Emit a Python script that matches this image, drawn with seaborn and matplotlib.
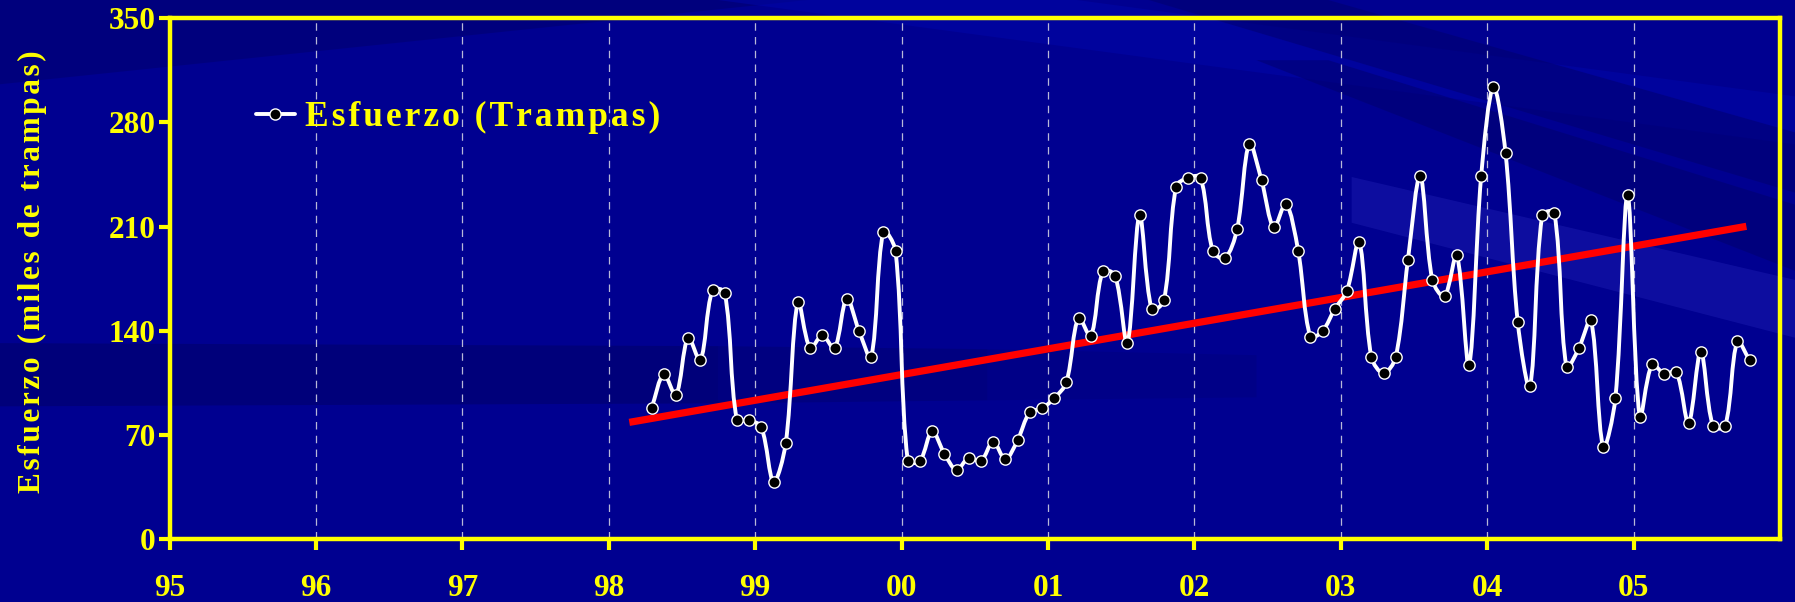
import numpy as np
import pandas as pd
import matplotlib
matplotlib.use("Agg")
import matplotlib.pyplot as plt
from matplotlib.path import Path
from matplotlib.patches import PathPatch, Polygon
from matplotlib.lines import Line2D
import seaborn as sns

# Monthly trap effort (thousands of traps), April 1998 - October 2005
start_month = "1998-04"
esfuerzo = [
    87.9, 110.8, 96.9, 135.4, 120.2, 167.4, 165.6, 80.1, 80.1,                 # 1998 Apr-Dec
    75.2, 38.6, 64.4, 159.6, 128.2, 137.0, 128.2, 161.6, 140.1, 122.2, 206.6, 193.8,  # 1999
    52.7, 52.7, 72.5, 57.5, 46.6, 54.7, 52.5, 65.5, 53.7, 66.4, 85.2, 87.9,     # 2000
    94.6, 105.4, 148.8, 136.5, 180.2, 177.0, 131.8, 217.6, 154.4, 160.5, 236.8, 242.9,  # 2001
    242.9, 193.8, 188.7, 208.4, 265.7, 241.1, 209.5, 225.4, 193.8, 136.0, 139.9, 154.6,  # 2002
    166.9, 199.9, 122.4, 111.4, 122.4, 187.8, 244.0, 174.1, 163.2, 190.9, 117.0, 243.8,  # 2003
    303.8, 259.4, 145.7, 102.7, 217.6, 219.3, 115.5, 128.2, 147.0, 62.1, 94.6, 231.0,    # 2004
    81.9, 117.5, 111.2, 112.3, 78.1, 126.0, 76.0, 76.0, 132.9, 120.2,          # 2005 Jan-Oct
]

# Linear trend (start and end)
trend_years = [1998.14, 2005.77]
trend_values = [78.5, 210.2]

year_ticks = list(range(1995, 2006))
year_labels = ["95", "96", "97", "98", "99", "00", "01", "02", "03", "04", "05"]
y_ticks = [0, 70, 140, 210, 280, 350]

series_label = "Esfuerzo (Trampas)"
y_title = "Esfuerzo (miles de trampas)"

YELLOW = "#FFFF00"
SERIF = ["Liberation Serif", "DejaVu Serif"]
HAIR = "\u200a"

periods = pd.period_range(start_month, periods=len(esfuerzo), freq="M")
df = pd.DataFrame({
    "anio": periods.year + (periods.month - 0.5) / 12.0,
    "esfuerzo": esfuerzo,
})
trend = pd.DataFrame({"anio": trend_years, "valor": trend_values})

sns.set_style("ticks")
plt.rcParams["font.family"] = SERIF

fig = plt.figure(figsize=(17.95, 6.02), dpi=100)
fig.patch.set_facecolor("#000090")

# slide background: soft bands of darker / lighter blue
def band(pts, color, alpha):
    fig.add_artist(Polygon(pts, closed=True, transform=fig.transFigure,
                           facecolor=color, edgecolor="none", alpha=alpha, zorder=-10))

band([(0, 1), (0.45, 1), (0.0, 0.86)], "#000068", 0.45)
band([(0, 0.43), (0.40, 0.425), (0.40, 0.33), (0, 0.325)], "#000060", 0.45)
band([(0.40, 0.425), (0.55, 0.42), (0.55, 0.335), (0.40, 0.33)], "#000060", 0.32)
band([(0.55, 0.42), (0.70, 0.41), (0.70, 0.34), (0.55, 0.335)], "#000060", 0.18)
band([(0.40, 1), (0.60, 1), (1, 0.84), (1, 0.76)], "#0006AA", 0.5)
band([(0.64, 1), (0.74, 1), (1, 0.78), (1, 0.68)], "#00006C", 0.5)
band([(0.70, 0.90), (0.74, 0.90), (1, 0.66), (1, 0.55)], "#00006C", 0.5)
band([(0.753, 0.706), (1, 0.535), (1, 0.439), (0.753, 0.630)], "#2424B8", 0.38)

ax = fig.add_axes([0.09448, 0.1043, 0.8972, 0.8654])
ax.patch.set_visible(False)

# year grid
for yr in year_ticks[1:]:
    ax.axvline(yr, color="#B8B8D8", lw=0.9, ls=(0, (6, 5)), zorder=1)

# trend line
sns.lineplot(data=trend, x="anio", y="valor", ax=ax, color="#FF0000",
             lw=5.2, solid_capstyle="butt", zorder=2, legend=False)

ax.set_xlim(1995, 2006)
ax.set_ylim(0, 350)

# smoothed series line: cubic Bezier through the points; each handle is a
# share of the neighbour chord, split by the adjacent segment lengths on screen
def smooth_path(xs, ys, t=1.0 / 3.0):
    pts = ax.transData.transform(np.column_stack([xs, ys]).astype(float))
    n = len(pts)
    out_h = np.zeros_like(pts)
    in_h = np.zeros_like(pts)
    for i in range(n):
        prev_p = pts[max(i - 1, 0)]
        next_p = pts[min(i + 1, n - 1)]
        d = next_p - prev_p
        a = np.hypot(*(pts[i] - prev_p))
        b = np.hypot(*(next_p - pts[i]))
        if a + b == 0:
            continue
        out_h[i] = d * t * b / (a + b)
        in_h[i] = d * t * a / (a + b)
    verts, codes = [pts[0]], [Path.MOVETO]
    for i in range(n - 1):
        verts += [pts[i] + out_h[i], pts[i + 1] - in_h[i + 1], pts[i + 1]]
        codes += [Path.CURVE4] * 3
    verts = ax.transData.inverted().transform(np.array(verts))
    return Path(verts, codes)

ax.add_patch(PathPatch(smooth_path(df["anio"], df["esfuerzo"]), facecolor="none",
                       edgecolor="white", lw=2.8, zorder=3, capstyle="round",
                       joinstyle="round"))

sns.scatterplot(data=df, x="anio", y="esfuerzo", ax=ax, color="black",
                edgecolor="white", linewidth=1.0, s=66, zorder=4, legend=False)

ax.set_xticks(year_ticks)
ax.set_xticklabels(year_labels)
ax.set_yticks(y_ticks)
ax.set_xlabel("")

for s in ax.spines.values():
    s.set_color(YELLOW)
    s.set_linewidth(3.2)
    s.set_visible(True)

ax.tick_params(axis="both", colors=YELLOW, width=3.0, length=8, direction="out")
ax.tick_params(axis="x", pad=17)
ax.tick_params(axis="y", pad=2)
for lab in ax.get_xticklabels() + ax.get_yticklabels():
    lab.set_fontfamily(SERIF)
    lab.set_fontweight("bold")
    lab.set_fontsize(22.5)
    lab.set_color(YELLOW)

ax.set_ylabel(HAIR.join(y_title), color=YELLOW, fontsize=22.5,
              fontweight="bold", family=SERIF)
ax.yaxis.set_label_coords(-0.0762, 0.513)

handle = Line2D([], [], color="white", lw=2.8, marker="o", markersize=8,
                markerfacecolor="black", markeredgecolor="white", markeredgewidth=1.0)
leg = ax.legend([handle], [HAIR.join(series_label)], loc="upper left",
                bbox_to_anchor=(0.049, 0.855), frameon=False, handlelength=1.1,
                handletextpad=0.3, borderaxespad=0, borderpad=0.2,
                prop={"family": SERIF, "weight": "bold", "size": 25.5})
for t in leg.get_texts():
    t.set_color(YELLOW)

fig.savefig("out.png", dpi=100, facecolor=fig.get_facecolor())
